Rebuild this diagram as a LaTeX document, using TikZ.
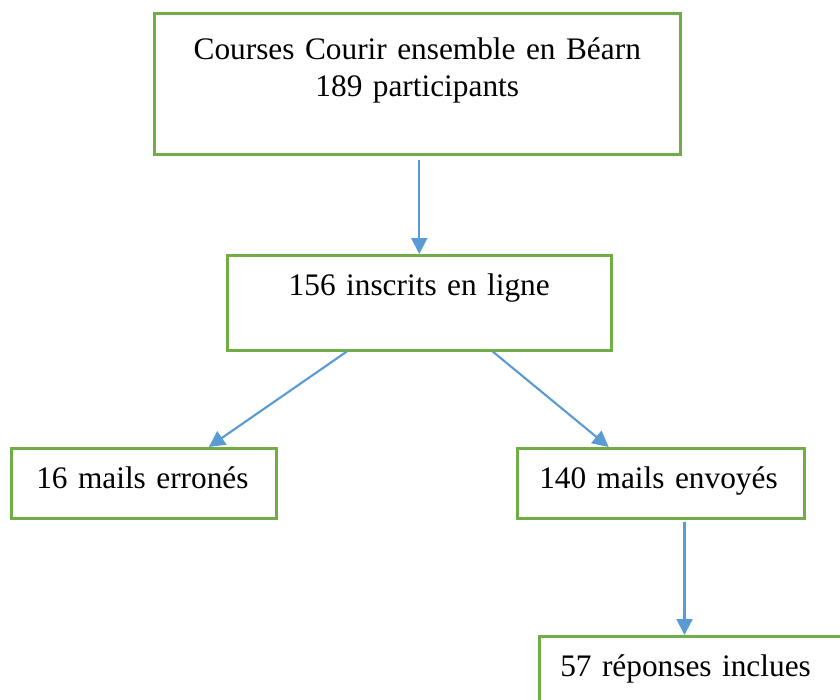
\documentclass[tikz,border=0pt]{standalone}
\usepackage{fontspec}
\setmainfont{Liberation Serif}
\usepackage{xcolor}
\usetikzlibrary{arrows.meta}
\usetikzlibrary{calc}
\usetikzlibrary{positioning}
\definecolor{boxgreen}{HTML}{70AD47}
\definecolor{arrowblue}{HTML}{5B9BD5}

\begin{document}
\begin{tikzpicture}[x=0.75pt,y=-0.75pt,>={Triangle[length=12pt,width=12pt]},auto]
	\tikzstyle{box}=[draw=boxgreen, line width=1.9pt, rectangle, anchor=north west, inner sep=0pt, font=\fontsize{23.5}{27.6}\selectfont, text height=30pt]
	\tikzstyle{leftbox}=[box, align=left, text depth=22.5pt]
	\tikzstyle{flow}=[->, draw=arrowblue, fill=arrowblue, line width=1.6pt]
	\useasboundingbox (0,0) rectangle (840,700);
	\clip (0,0) rectangle (840,700);
	\node[box, text width=394.5pt, align=center, text height=34.5pt, text depth=71.25pt] (race) at (153,12) {Courses Courir ensemble en Béarn\\189 participants};
	\node[box, text width=288pt, align=center, text depth=41.25pt] (online) at (226,254) {156 inscrits en ligne};
	\node[leftbox, text width=198.75pt] (wrong) at (10,447) {\hspace*{18.75pt}16 mails erronés};
	\node[leftbox, text width=215.25pt] (sent) at (516,447) {\hspace*{16.5pt}140 mails envoyés};
	\node[leftbox, text width=234pt] (answers) at (538,635) {\hspace*{15.75pt}57 réponses inclues};
	\coordinate (sentout) at ($(sent.south west)!0.582!(sent.south east)$);
	\path
		(online.north |- race.south) edge[flow, shorten <=3pt] (online.north)
		($(online.south west)!0.3125!(online.south east)$) edge[flow] ($(wrong.north west)!0.743!(wrong.north east)$)
		($(online.south west)!0.69!(online.south east)$) edge[flow] ($(sent.north west)!0.32!(sent.north east)$)
		(sentout) edge[flow, shorten <=1.5pt] (sentout |- answers.north);
\end{tikzpicture}
\end{document}
